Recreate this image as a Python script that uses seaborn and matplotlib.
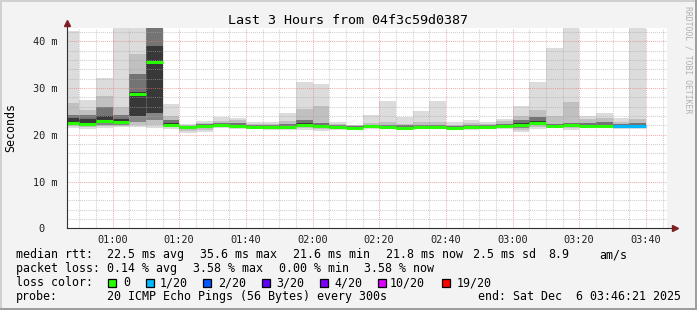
import matplotlib
matplotlib.use("Agg")
import matplotlib.pyplot as plt
from matplotlib.patches import Rectangle
import numpy as np
import pandas as pd
import seaborn as sns

# ---------------- data ----------------
interval_start = ["00:45", "00:50", "00:55", "01:00", "01:05", "01:10", "01:15",
                  "01:20", "01:25", "01:30", "01:35", "01:40", "01:45", "01:50",
                  "01:55", "02:00", "02:05", "02:10", "02:15", "02:20", "02:25",
                  "02:30", "02:35", "02:40", "02:45", "02:50", "02:55", "03:00",
                  "03:05", "03:10", "03:15", "03:20", "03:25", "03:30", "03:35"]
rtt_min = [21.4, 21.3, 21.5, 21.6, 21.6, 21.4, 21.2, 20.4, 20.7, 21.4, 21.2, 21.2,
           21.1, 21.1, 21.1, 20.9, 21.1, 21.2, 21.2, 21.2, 21.0, 21.2, 21.2, 21.1,
           21.1, 21.2, 21.2, 20.7, 21.3, 21.4, 21.1, 21.4, 21.4, 21.3, 21.3]
rtt_p10 = [21.8, 21.6, 21.8, 21.9, 22.0, 22.0, 21.6, 20.9, 21.1, 21.7, 21.5, 21.4,
           21.3, 21.3, 21.4, 21.2, 21.3, 21.3, 21.4, 21.4, 21.2, 21.4, 21.4, 21.3,
           21.3, 21.4, 21.5, 21.1, 21.6, 21.6, 21.4, 21.6, 21.6, 21.5, 21.5]
rtt_p25 = [22.1, 21.9, 22.1, 22.2, 22.7, 23.2, 21.9, 21.3, 21.5, 21.9, 21.7, 21.5,
           21.5, 21.5, 21.6, 21.5, 21.4, 21.4, 21.6, 21.5, 21.4, 21.5, 21.5, 21.4,
           21.5, 21.5, 21.7, 21.5, 22.0, 21.7, 21.7, 21.7, 21.7, 21.6, 21.6]
rtt_p40 = [22.4, 22.1, 22.5, 22.5, 24.1, 24.6, 22.0, 21.6, 21.8, 22.0, 21.8, 21.6,
           21.6, 21.6, 21.8, 21.7, 21.5, 21.5, 21.7, 21.6, 21.5, 21.6, 21.6, 21.5,
           21.6, 21.6, 21.8, 21.8, 22.3, 21.8, 21.9, 21.8, 21.8, 21.7, 21.7]
rtt_median = [22.6, 22.3, 22.9, 22.7, 28.7, 35.6, 22.1, 21.7, 21.9, 22.1, 21.9, 21.7,
              21.6, 21.7, 22.0, 21.8, 21.6, 21.5, 21.8, 21.7, 21.5, 21.7, 21.7, 21.5,
              21.6, 21.7, 21.9, 22.2, 22.5, 21.9, 22.1, 21.9, 21.9, 21.8, 21.8]
rtt_p60 = [23.6, 23.4, 24.0, 23.3, 29.2, 39.1, 22.5, 21.8, 22.1, 22.3, 22.1, 21.8,
           21.8, 21.9, 22.5, 22.1, 21.8, 21.6, 21.9, 21.9, 21.7, 21.9, 21.9, 21.7,
           21.8, 21.8, 22.1, 22.6, 23.0, 22.1, 22.3, 22.1, 22.2, 22.0, 22.0]
rtt_p75 = [24.2, 24.2, 26.0, 24.3, 33.0, 44.0, 23.2, 21.9, 22.3, 22.6, 22.6, 22.0,
           22.0, 22.3, 23.2, 22.6, 22.0, 21.8, 22.2, 22.2, 22.0, 22.2, 22.2, 21.9,
           22.1, 22.0, 22.4, 23.2, 23.8, 22.4, 22.6, 22.5, 22.7, 22.3, 22.5]
rtt_p90 = [26.9, 25.3, 28.2, 25.9, 37.3, 44.0, 24.1, 22.1, 22.6, 23.0, 23.2, 22.3,
           22.3, 23.0, 25.5, 26.1, 22.3, 22.0, 22.6, 22.8, 22.4, 22.7, 22.8, 22.2,
           22.6, 22.3, 22.9, 24.0, 25.2, 24.1, 27.1, 23.3, 23.6, 22.8, 23.4]
rtt_max = [42.1, 27.4, 32.1, 44.0, 44.0, 44.0, 26.6, 22.3, 22.9, 23.9, 23.7, 22.7,
           22.8, 24.7, 31.3, 30.9, 22.8, 22.2, 24.3, 27.2, 23.9, 25.0, 27.2, 22.7,
           23.2, 22.7, 23.4, 26.2, 31.2, 38.6, 44.0, 24.0, 24.7, 23.6, 44.0]
lost_pings = [0, 0, 0, 0, 0, 0, 0, 0, 0, 0, 0, 0, 0, 0, 0, 0, 0, 0, 0, 0, 0, 0, 0, 0,
              0, 0, 0, 0, 0, 0, 0, 0, 0, 1, 1]

loss_labels = ["0", "1/20", "2/20", "3/20", "4/20", "10/20", "19/20"]
loss_levels = [0, 1, 2, 3, 4, 10, 19]
loss_colors = ["#26ff00", "#00b8ff", "#0059ff", "#5e00ff", "#7e00ff", "#dd00ff", "#ff0000"]

major_ticks = ["01:00", "01:20", "01:40", "02:00", "02:20", "02:40", "03:00", "03:20", "03:40"]
y_ticks = [0, 10, 20, 30, 40]
y_tick_labels = ["0  ", "10 m", "20 m", "30 m", "40 m"]

title = "Last 3 Hours from 04f3c59d0387"
window_start = "00:46:21"
window_end = "03:46:21"


def to_min(s):
    parts = [int(p) for p in s.split(":")]
    return parts[0] * 60 + parts[1] + (parts[2] / 60 if len(parts) > 2 else 0)


df = pd.DataFrame({
    "start": [to_min(t) for t in interval_start],
    "mn": rtt_min, "p10": rtt_p10, "p25": rtt_p25, "p40": rtt_p40,
    "med": rtt_median, "p60": rtt_p60, "p75": rtt_p75, "p90": rtt_p90,
    "mx": rtt_max, "loss": lost_pings,
})
step = 5

# ---------------- style ----------------
sns.set_style("white")
plt.rcParams["font.family"] = ["DejaVu Sans Mono", "DejaVu Sans"]

W, H = 697, 310
fig = plt.figure(figsize=(W / 100, H / 100), dpi=100)
fig.patch.set_facecolor("#f3f3f3")

# 3D-ish frame
fig.add_artist(Rectangle((0, 0), 2 / W, 1, transform=fig.transFigure, color="#d0d0d0", lw=0))
fig.add_artist(Rectangle((0, 1 - 2 / H), 1, 2 / H, transform=fig.transFigure, color="#d0d0d0", lw=0))
fig.add_artist(Rectangle((1 - 2 / W, 0), 2 / W, 1, transform=fig.transFigure, color="#9e9e9e", lw=0))
fig.add_artist(Rectangle((0, 0), 1, 2 / H, transform=fig.transFigure, color="#9e9e9e", lw=0))

ax = fig.add_axes([67 / W, (H - 228.3) / H, 600 / W, 200 / H])
ax.set_facecolor("white")

# smoke bands (outer light -> inner dark)
bands = [("mn", "p10", "#dcdcdc"), ("p10", "p25", "#c2c2c2"), ("p25", "p40", "#858585"),
         ("p40", "p60", "#383838"), ("p60", "p75", "#747474"), ("p75", "p90", "#c0c0c0"),
         ("p90", "mx", "#dcdcdc")]
for lo, hi, c in bands:
    ax.bar(df["start"], df[hi] - df[lo], bottom=df[lo], width=step, align="edge",
           color=c, linewidth=0, antialiased=False, zorder=1)

# median line coloured by loss
cmap = dict(zip(loss_levels, loss_colors))
ax.hlines(df["med"], df["start"], df["start"] + step,
          colors=[cmap[l] for l in df["loss"]], linewidth=2.2, zorder=4)

ax.set_xlim(to_min(window_start), to_min(window_end))
ax.set_ylim(0, 42.78)

maj = [to_min(t) for t in major_ticks]
ax.set_xticks(maj)
ax.set_xticklabels(major_ticks)
minor_x = [m for m in np.arange(50, 227, 5) if m not in maj]
ax.set_xticks(minor_x, minor=True)
ax.set_yticks(y_ticks)
ax.set_yticklabels(y_tick_labels)
ax.set_yticks([v for v in range(2, 43, 2) if v % 10], minor=True)

ax.set_axisbelow(False)
ax.grid(which="major", color="#e87a7a", alpha=0.6, linestyle=(0, (1, 1)), linewidth=0.75)
ax.grid(which="minor", color="#a8a8a8", alpha=0.55, linestyle=(0, (1, 1)), linewidth=0.75)
ax.tick_params(which="both", length=0)
ax.tick_params(axis="x", pad=5, labelsize=7.4, colors="#202020")
ax.tick_params(axis="y", pad=7, labelsize=7.4, colors="#202020")

for s in ["top", "right"]:
    ax.spines[s].set_visible(False)
for s in ["left", "bottom"]:
    ax.spines[s].set_color("#303030")
    ax.spines[s].set_linewidth(0.8)
    ax.spines[s].set_zorder(5)

# axis extensions with arrows
ax.plot([1, 1 + 6 / 600], [0, 0], transform=ax.transAxes, color="#303030", lw=0.8, clip_on=False, zorder=5)
ax.plot([0, 0], [1, 1 + 3 / 200], transform=ax.transAxes, color="#303030", lw=0.8, clip_on=False, zorder=5)
ax.plot([1 + 8 / 600], [0], transform=ax.transAxes, marker=">", ms=5, color="#7f2020", clip_on=False, zorder=6)
ax.plot([0], [1 + 5 / 200], transform=ax.transAxes, marker="^", ms=5, color="#7f2020", clip_on=False, zorder=6)


def ftext(x, y, s, **kw):
    kw.setdefault("fontsize", 8.4)
    kw.setdefault("va", "baseline")
    kw.setdefault("ha", "left")
    kw.setdefault("color", "black")
    fig.text(x / W, 1 - y / H, s, **kw)


ftext(347.5, 24, title, fontsize=9.6, ha="center")
ftext(11, 128, "Seconds", rotation=90, va="center", ha="center")
ftext(688, 60, "RRDTOOL / TOBI OETIKER", rotation=-90, va="center", ha="center",
      fontsize=5.9, color="#b0b0b0")

# legend / summary lines
line1 = [(16, "median rtt:"), (107.3, "22.5 ms avg"), (200, "35.6 ms max"),
         (293.3, "21.6 ms min"), (385.5, "21.8 ms now"), (473, "2.5 ms sd"),
         (548, "8.9"), (599, "am/s")]
line2 = [(16, "packet loss:"), (107.3, "0.14 % avg"), (193.3, "3.58 % max"),
         (279.3, "0.00 % min"), (364.3, "3.58 % now")]
for x, s in line1:
    ftext(x, 258, s)
for x, s in line2:
    ftext(x, 272, s)

ftext(16, 286, "loss color:")
sq_x = [108.3, 145.7, 203.3, 261.7, 320.0, 377.7, 441.7]
lab_x = [123.3, 160.0, 217.7, 276.0, 334.3, 389.5, 457.0]
for sx, lx, c, lab in zip(sq_x, lab_x, loss_colors, loss_labels):
    fig.add_artist(Rectangle((sx / W, 1 - 286.5 / H), 8 / W, 8 / H, transform=fig.transFigure,
                             facecolor=c, edgecolor="black", lw=0.9))
    ftext(lx, 286, lab)

ftext(16, 300, "probe:")
ftext(107.3, 300, "20 ICMP Echo Pings (56 Bytes) every 300s")
ftext(478.3, 300, "end: Sat Dec  6 03:46:21 2025")

fig.savefig("out.png", dpi=100, facecolor=fig.get_facecolor())
